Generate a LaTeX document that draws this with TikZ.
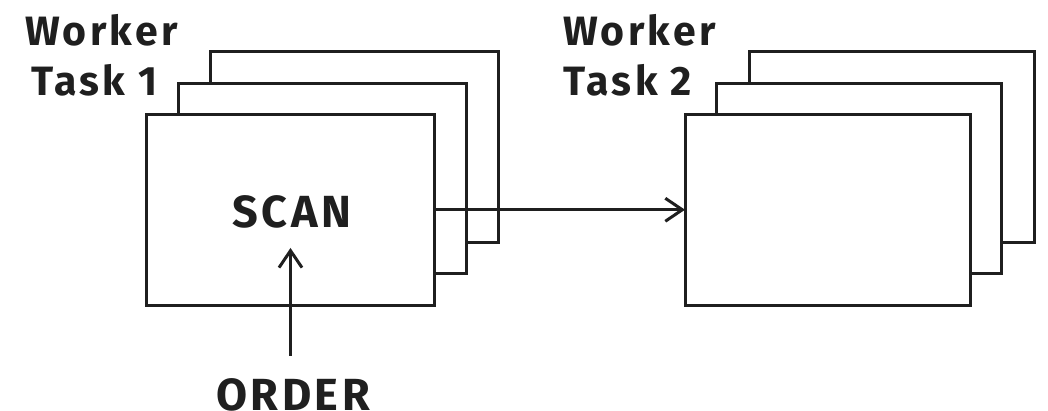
\documentclass[tikz,border=0pt]{standalone}
\usepackage{fontspec}
\setmainfont{Fira Sans}[LetterSpace=8]
\usetikzlibrary{arrows.meta}
\begin{document}
\begin{tikzpicture}[x=1pt,y=-1pt,
  card/.style={draw=black!88, fill=white, line width=3pt, inner sep=0pt, outer sep=0pt},
  lcard/.style={card, minimum width=288pt, minimum height=190.5pt},
  rcard/.style={card, minimum width=285pt, minimum height=190.5pt},
  lbl/.style={font=\fontsize{41}{48}\selectfont\bfseries, text=black!88, inner sep=0pt, anchor=base west},
  big/.style={font=\fontsize{45}{52}\selectfont\bfseries, text=black!88, inner sep=0pt, anchor=base},
  arr/.style={draw=black!88, line width=3pt, -{Straight Barb[length=17pt,width=23pt]}}]
\useasboundingbox (0,0) rectangle (1048,410);
% left stack
\node[lcard] (L3) at (354.5,146.75) {};
\node[lcard] (L2) at (322.5,178.25) {};
\node[lcard] (L1) at (290.5,209.75) {};
% right stack
\node[rcard] (R3) at (749.3+142.5,146.75) {};
\node[rcard] (R2) at (716.7+142.5,178.25) {};
\node[rcard] (R1) at (685+142.5,209.75) {};
% labels
\node[lbl] (w1) at (25,45) {Worker};
\node[lbl] (t1) at (31,95) {Task 1};
\node[lbl] (w2) at (563,45) {Worker};
\node[lbl] (t2) at (563,95) {Task 2};
\node[big] (scan) at (292,227) {SCAN};
\node[big] (order) at (293,410) {ORDER};
% connectors
\draw[arr] (L1.east) -- (R1.west);
\draw[arr] ([yshift=22pt]order.north -| L1.south) -- ([yshift=-20pt]scan.south -| L1.south);
\end{tikzpicture}
\end{document}
